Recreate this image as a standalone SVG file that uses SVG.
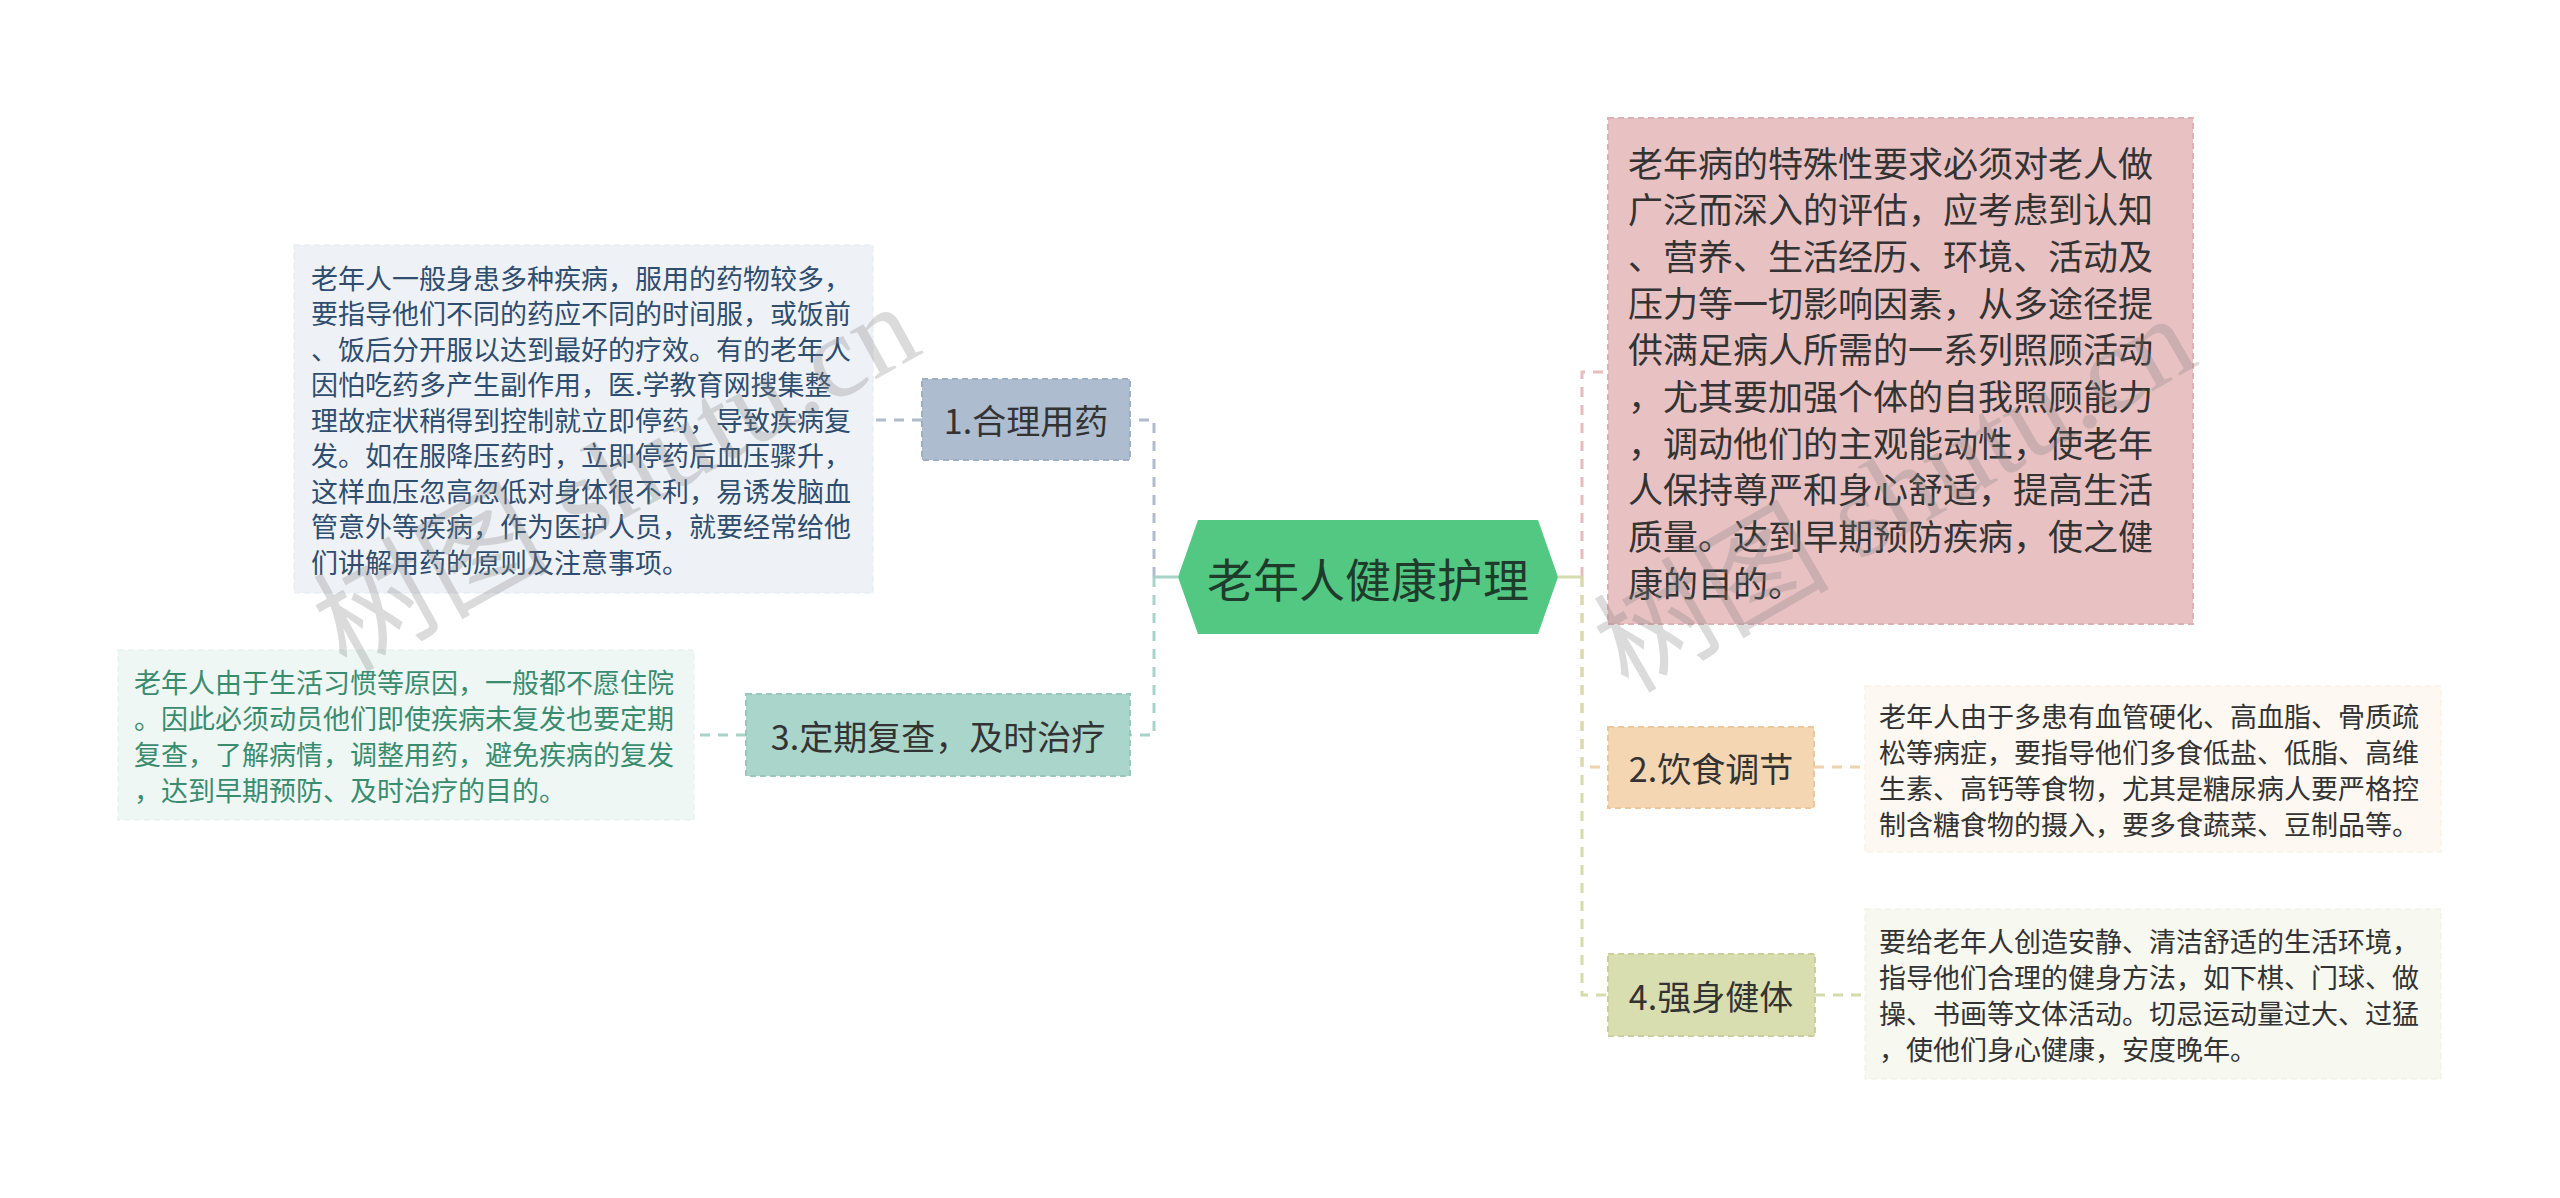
<svg xmlns="http://www.w3.org/2000/svg" width="2560" height="1198" viewBox="0 0 2560 1198">
<style>
text{font-family:"Noto Sans CJK SC","Noto Sans",sans-serif;}
.lbl{font-size:34px;fill:#333333;text-anchor:middle;dominant-baseline:central;}
.leaf{font-size:27px;dominant-baseline:central;}
.big{font-size:35px;fill:#333333;dominant-baseline:central;}
.con{fill:none;stroke-width:3;stroke-dasharray:10 8;}
.solid{fill:none;stroke-width:3;}
.box{stroke-width:2;stroke-dasharray:6 4;}
.lbox{stroke-width:2;stroke-dasharray:6 4;stroke-opacity:0.5;}
.wm{font-family:"Liberation Serif","Noto Sans CJK SC",serif;font-size:118px;fill:#808080;opacity:0.28;}
</style>
<rect width="2560" height="1198" fill="#ffffff"/>
<g id="connectors">
  <path class="con" d="M1154,577 V420 H1130" stroke="#aebccc"/>
  <path class="con" d="M1154,577 V735 H1130" stroke="#a8d3c8"/>
  <path class="solid" d="M1178,577 H1154" stroke="#a8d3c8"/>
  <path class="con" d="M922,420 H873" stroke="#aebccc"/>
  <path class="con" d="M746,735 H694" stroke="#a8d3c8"/>
  <path class="con" d="M1582,577 V767 H1608" stroke="#efd2ae"/>
  <path class="con" d="M1582,577 V995 H1608" stroke="#d5dbab"/>
  <path class="con" d="M1582,577 V372 H1608" stroke="#e6bcbf"/>
  <path class="solid" d="M1558,577 H1582" stroke="#d5dbab"/>
  <path class="con" d="M1814,767 H1865" stroke="#efd2ae"/>
  <path class="con" d="M1815,995 H1865" stroke="#d5dbab"/>
</g>
<g id="center">
  <polygon points="1178,577 1198,520 1538,520 1558,577 1538,634 1198,634" fill="#52c883"/>
  <text x="1368" y="577" font-size="46" fill="#1f3b2b" text-anchor="middle" dominant-baseline="central">老年人健康护理</text>
</g>
<g id="node1">
  <rect class="box" x="922" y="379" width="208" height="81" fill="#adbdcf" stroke="#9dafc4"/>
  <text class="lbl" x="1026" y="419.5">1.合理用药</text>
</g>
<g id="leaf1">
  <rect class="lbox" x="294" y="245" width="579" height="348" fill="#eef2f6" stroke="#e3e9ef"/>
  <g class="leaf" fill="#2f4d6e">
    <text x="311" y="277">老年人一般身患多种疾病，服用的药物较多，</text>
    <text x="311" y="312.5">要指导他们不同的药应不同的时间服，或饭前</text>
    <text x="311" y="348">、饭后分开服以达到最好的疗效。有的老年人</text>
    <text x="311" y="383.5">因怕吃药多产生副作用，医.学教育网搜集整</text>
    <text x="311" y="419">理故症状稍得到控制就立即停药，导致疾病复</text>
    <text x="311" y="454.5">发。如在服降压药时，立即停药后血压骤升，</text>
    <text x="311" y="490">这样血压忽高忽低对身体很不利，易诱发脑血</text>
    <text x="311" y="525.5">管意外等疾病，作为医护人员，就要经常给他</text>
    <text x="311" y="561">们讲解用药的原则及注意事项。</text>
  </g>
</g>
<g id="node3">
  <rect class="box" x="746" y="694" width="384" height="82" fill="#a9d5ca" stroke="#98c8bb"/>
  <text class="lbl" x="938" y="735">3.定期复查，及时治疗</text>
</g>
<g id="leaf3">
  <rect class="lbox" x="118" y="650" width="576" height="170" fill="#eef7f4" stroke="#e2f0eb"/>
  <g class="leaf" fill="#3a8c6f">
    <text x="134" y="681">老年人由于生活习惯等原因，一般都不愿住院</text>
    <text x="134" y="717">。因此必须动员他们即使疾病未复发也要定期</text>
    <text x="134" y="753">复查，了解病情，调整用药，避免疾病的复发</text>
    <text x="134" y="789">，达到早期预防、及时治疗的目的。</text>
  </g>
</g>
<g id="nodePink">
  <rect class="box" x="1608" y="118" width="585" height="506" fill="#e8c1c3" stroke="#ddb0b3"/>
  <g class="big">
    <text x="1628" y="161">老年病的特殊性要求必须对老人做</text>
    <text x="1628" y="207.7">广泛而深入的评估，应考虑到认知</text>
    <text x="1628" y="254.4">、营养、生活经历、环境、活动及</text>
    <text x="1628" y="301.1">压力等一切影响因素，从多途径提</text>
    <text x="1628" y="347.8">供满足病人所需的一系列照顾活动</text>
    <text x="1628" y="394.5">，尤其要加强个体的自我照顾能力</text>
    <text x="1628" y="441.2">，调动他们的主观能动性，使老年</text>
    <text x="1628" y="487.9">人保持尊严和身心舒适，提高生活</text>
    <text x="1628" y="534.6">质量。达到早期预防疾病，使之健</text>
    <text x="1628" y="581.3">康的目的。</text>
  </g>
</g>
<g id="node2">
  <rect class="box" x="1608" y="727" width="206" height="81" fill="#f4d6b2" stroke="#ecc79d"/>
  <text class="lbl" x="1711" y="767.5">2.饮食调节</text>
</g>
<g id="leaf2">
  <rect class="lbox" x="1865" y="686" width="576" height="166" fill="#fdf8f1" stroke="#f6ede0"/>
  <g class="leaf" fill="#333333">
    <text x="1879" y="715">老年人由于多患有血管硬化、高血脂、骨质疏</text>
    <text x="1879" y="751">松等病症，要指导他们多食低盐、低脂、高维</text>
    <text x="1879" y="787">生素、高钙等食物，尤其是糖尿病人要严格控</text>
    <text x="1879" y="823">制含糖食物的摄入，要多食蔬菜、豆制品等。</text>
  </g>
</g>
<g id="node4">
  <rect class="box" x="1608" y="954" width="207" height="82" fill="#d9deb1" stroke="#c9d09c"/>
  <text class="lbl" x="1711" y="995">4.强身健体</text>
</g>
<g id="leaf4">
  <rect class="lbox" x="1865" y="909" width="576" height="170" fill="#f7f8f0" stroke="#eef0e2"/>
  <g class="leaf" fill="#333333">
    <text x="1879" y="940">要给老年人创造安静、清洁舒适的生活环境，</text>
    <text x="1879" y="976">指导他们合理的健身方法，如下棋、门球、做</text>
    <text x="1879" y="1012">操、书画等文体活动。切忌运动量过大、过猛</text>
    <text x="1879" y="1048">，使他们身心健康，安度晚年。</text>
  </g>
</g>
<g id="watermarks">
  <text class="wm" x="346" y="673" transform="rotate(-29 346 673)">树图 shutu.cn</text>
  <text class="wm" x="1628" y="694" transform="rotate(-30 1628 694)">树图 shutu.cn</text>
</g>
</svg>
